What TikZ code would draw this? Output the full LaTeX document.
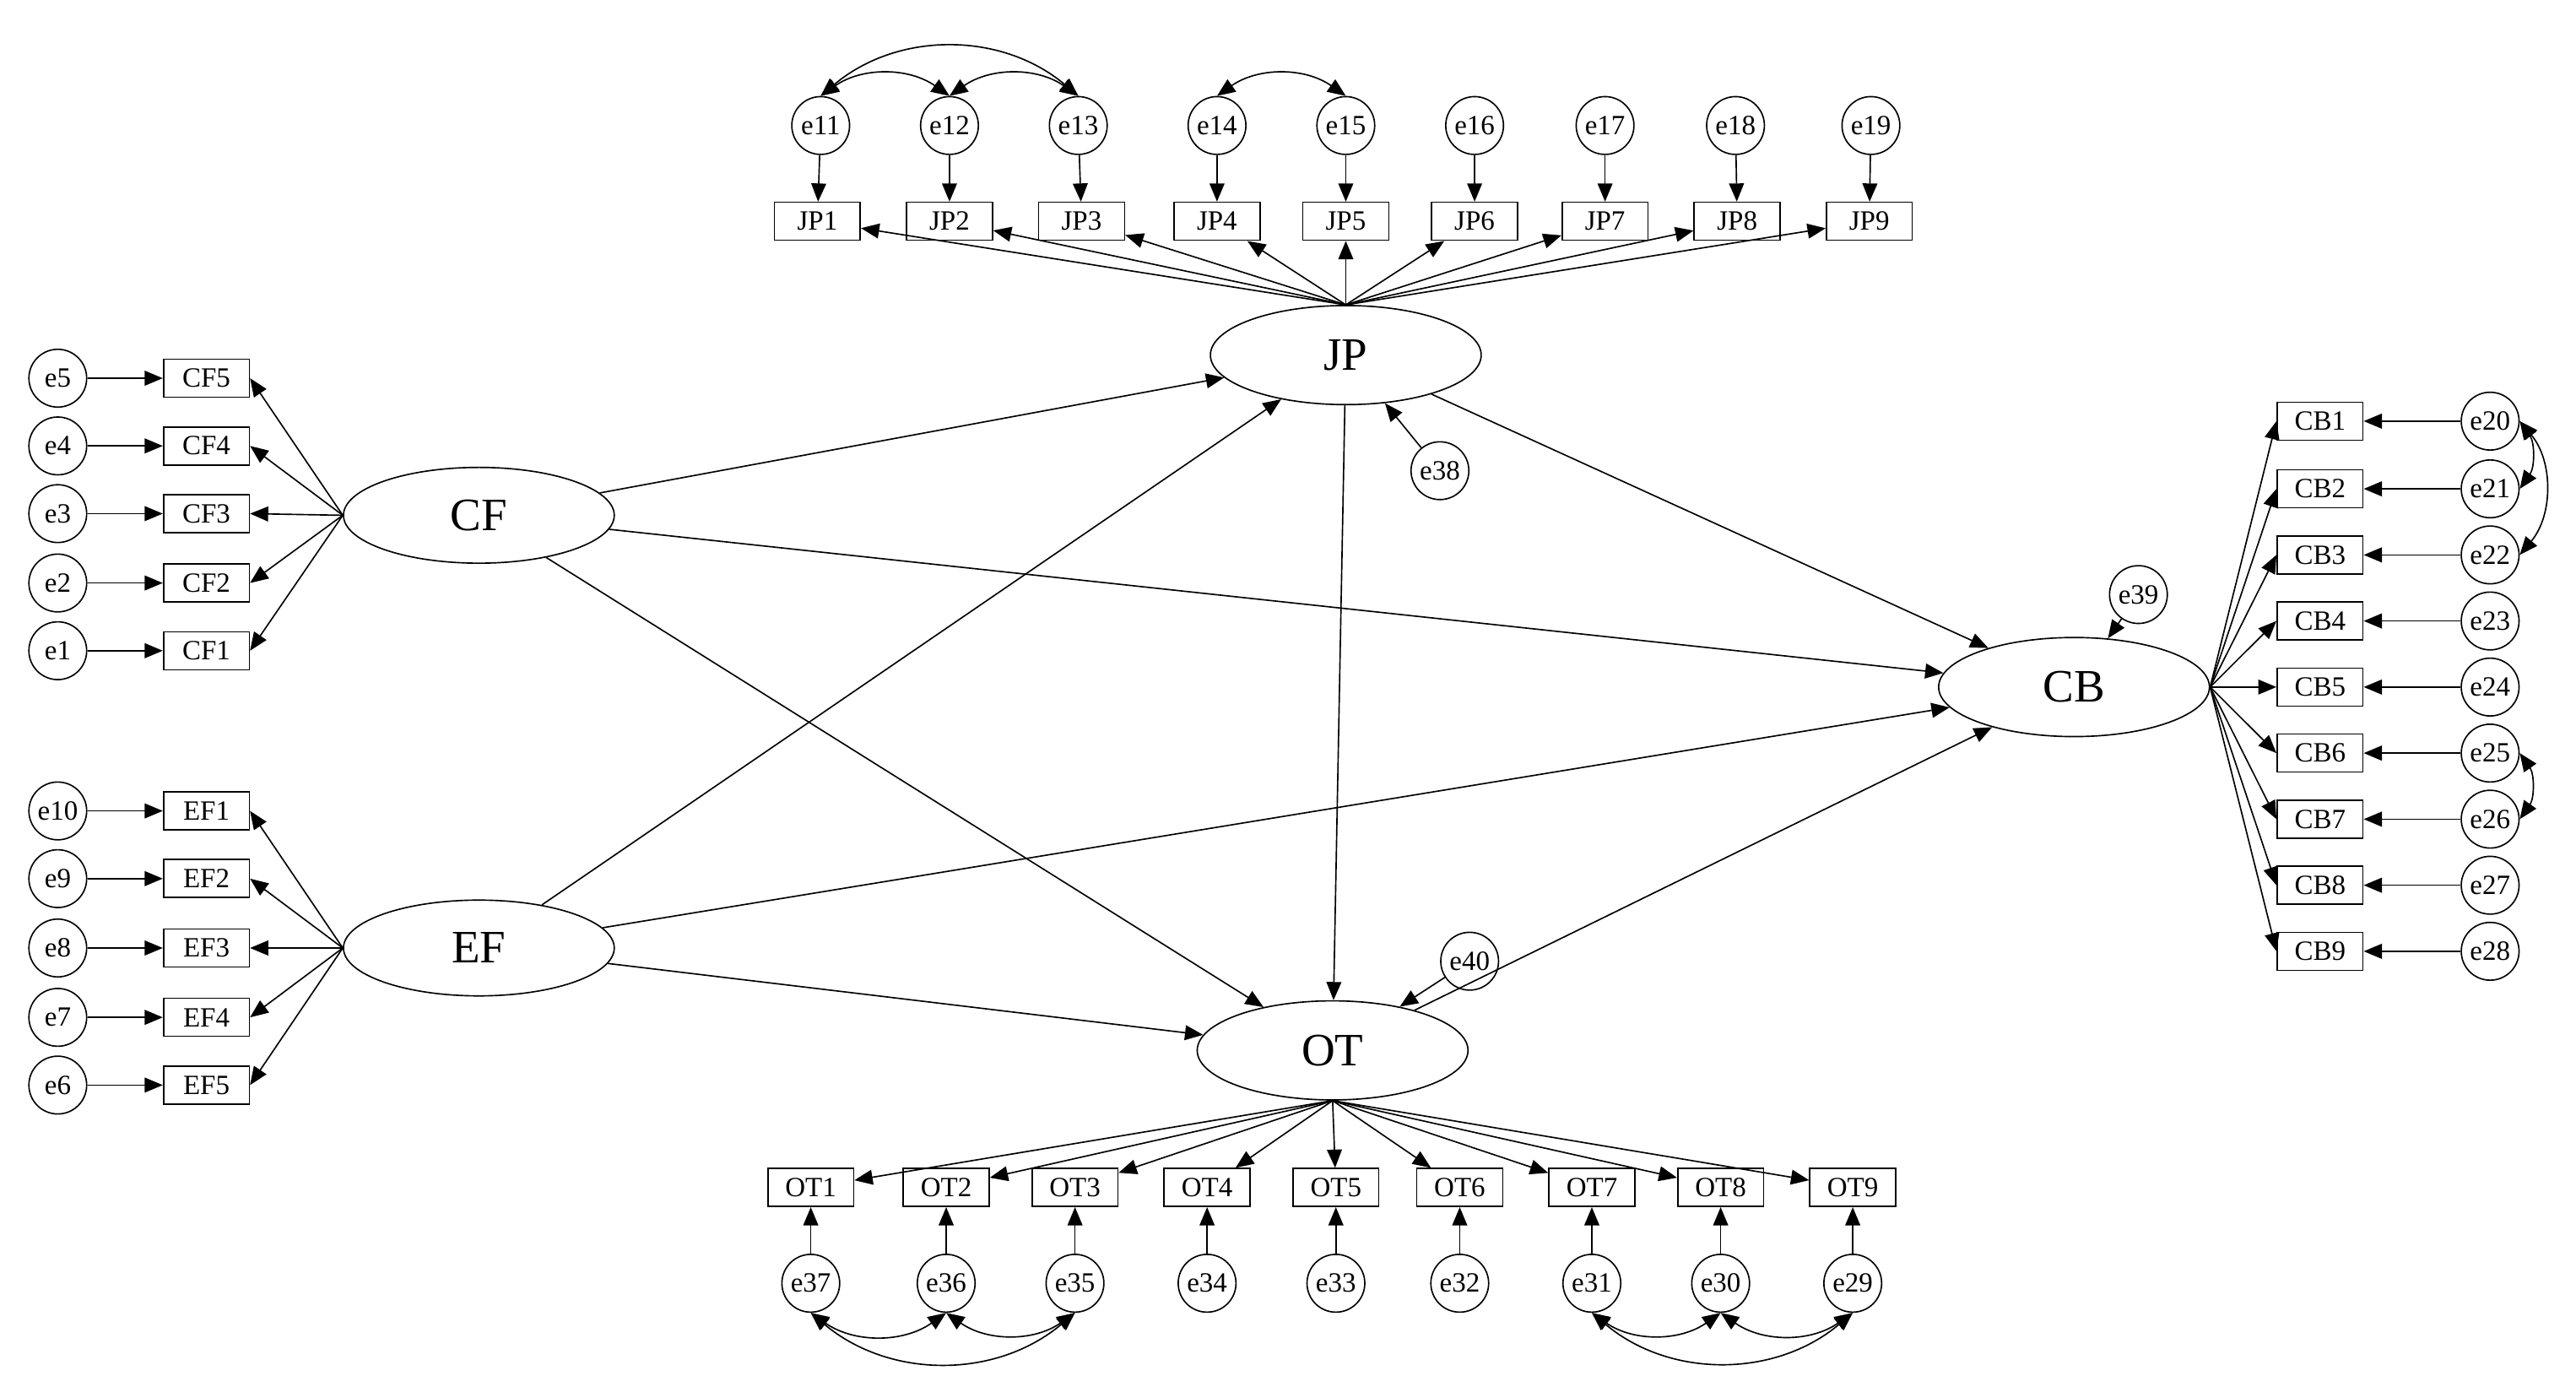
\documentclass[tikz,border=0pt]{standalone}
\usepackage{fontspec}
\setmainfont{Liberation Serif}
\usetikzlibrary{arrows.meta,shapes.geometric}
\begin{document}
\begin{tikzpicture}[x=0.05cm,y=-0.05cm,line width=1.2pt,
  obs/.style={draw,rectangle,minimum width=2.6cm,minimum height=1.15cm,inner sep=0pt,font=\fontsize{24}{26}\selectfont},
  err/.style={draw,circle,minimum size=1.75cm,inner sep=0pt,font=\fontsize{24}{26}\selectfont},
  lat/.style={draw,ellipse,minimum width=8.2cm,minimum height=3cm,inner sep=0pt,font=\fontsize{40}{42}\selectfont},
  arr/.style={-{Triangle[length=0.55cm,width=0.45cm]}},
  cov/.style={{Triangle[length=0.55cm,width=0.45cm]}-{Triangle[length=0.55cm,width=0.45cm]}}]
\useasboundingbox (0,0) rectangle (1560,833);
% latents
\node[lat,minimum width=8.2cm,minimum height=3cm] (JP) at (815,215) {JP};
\node[lat,minimum width=8.2cm,minimum height=2.9cm] (CF) at (290,312) {CF};
\node[lat,minimum width=8.2cm,minimum height=2.9cm] (EF) at (290,574) {EF};
\node[lat,minimum width=8.2cm,minimum height=3cm] (CB) at (1256,416) {CB};
\node[lat,minimum width=8.2cm,minimum height=3cm] (OT) at (807,636) {OT};
\node[err] (e38) at (872,285) {e38};
\node[err] (e39) at (1295,360) {e39};
\node[err] (e40) at (890,582) {e40};
\draw[arr] (e38) -- (JP);
\draw[arr] (e39) -- (CB);
\draw[arr] (e40) -- (OT);
% top
\foreach \i/\x/\ex in {1/495/497,2/575/575,3/655/653,4/737/737,5/815/815,6/893/893,7/972/972,8/1052/1051,9/1132/1133}{
  \pgfmathtruncatemacro{\e}{\i+10}
  \node[obs] (JP\i) at (\x,134) {JP\i};
  \node[err] (e\e) at (\ex,76) {e\e};
  \draw[arr] (e\e) -- (JP\i);
  \draw[arr] (JP.north) -- (JP\i);
}
\draw[cov] (e11.north) to[bend left=35] (e12.north);
\draw[cov] (e12.north) to[bend left=35] (e13.north);
\draw[cov] (e11.north) to[bend left=40] (e13.north);
\draw[cov] (e14.north) to[bend left=35] (e15.north);
% left
\foreach \i/\y in {1/394,2/353,3/311,4/270,5/229}{
  \node[obs] (CF\i) at (125,\y) {CF\i};
  \node[err] (e\i) at (35,\y) {e\i};
  \draw[arr] (e\i) -- (CF\i);
  \draw[arr] (CF.west) -- (CF\i.east);
}
\foreach \i/\y in {1/491,2/532,3/574,4/616,5/657}{
  \pgfmathtruncatemacro{\e}{11-\i}
  \node[obs] (EF\i) at (125,\y) {EF\i};
  \node[err] (e\e) at (35,\y) {e\e};
  \draw[arr] (e\e) -- (EF\i);
  \draw[arr] (EF.west) -- (EF\i.east);
}
% right
\foreach \i/\y in {1/255,2/296,3/336,4/376,5/416,6/456,7/496,8/536,9/576}{
  \pgfmathtruncatemacro{\e}{\i+19}
  \node[obs] (CB\i) at (1405,\y) {CB\i};
  \node[err] (e\e) at (1508,\y) {e\e};
  \draw[arr] (e\e) -- (CB\i);
  \draw[arr] (CB.east) -- (CB\i.west);
}
\draw[cov] (e20.east) to[bend left=35] (e21.east);
\draw[cov] (e20.east) to[bend left=40] (e22.east);
\draw[cov] (e25.east) to[bend left=35] (e26.east);
% bottom
\foreach \i/\x in {1/491,2/573,3/651,4/731,5/809,6/884,7/964,8/1042,9/1122}{
  \pgfmathtruncatemacro{\e}{38-\i}
  \node[obs] (OT\i) at (\x,719) {OT\i};
  \node[err] (e\e) at (\x,777) {e\e};
  \draw[arr] (e\e) -- (OT\i);
  \draw[arr] (OT.south) -- (OT\i);
}
\draw[cov] (e37.south) to[bend right=35] (e36.south);
\draw[cov] (e36.south) to[bend right=35] (e35.south);
\draw[cov] (e37.south) to[bend right=40] (e35.south);
\draw[cov] (e31.south) to[bend right=35] (e30.south);
\draw[cov] (e30.south) to[bend right=35] (e29.south);
\draw[cov] (e31.south) to[bend right=40] (e29.south);
% structural
\draw[arr] (CF) -- (JP);
\draw[arr] (CF) -- (CB);
\draw[arr] (CF) -- (OT);
\draw[arr] (EF) -- (JP);
\draw[arr] (EF) -- (CB);
\draw[arr] (EF) -- (OT);
\draw[arr] (JP) -- (CB);
\draw[arr] (JP) -- (OT);
\draw[arr] (OT) -- (CB);
\end{tikzpicture}
\end{document}
